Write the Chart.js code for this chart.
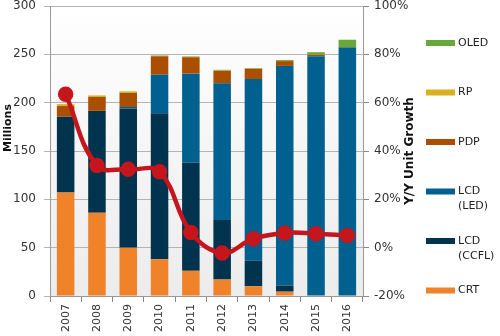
<!DOCTYPE html>
<html>
<head>
<meta charset="utf-8">
<script src="https://cdn.jsdelivr.net/npm/chart.js@4"></script>
<style>
  html, body { margin: 0; padding: 0; background: #fff; }
  #wrap { width: 500px; height: 336px; position: relative; }
</style>
</head>
<body>
<div id="wrap"><canvas id="tvChart"></canvas></div>
<script>
// --- data ---
const years = ['2007', '2008', '2009', '2010', '2011', '2012', '2013', '2014', '2015', '2016'];

// units, millions
const crt    = [107, 86, 50, 38, 26, 17, 10, 4.5, 0, 0];
const ccfl   = [78.5, 105.5, 144, 151, 112, 61.5, 26.5, 6.5, 0, 0];
const ledLcd = [0, 0, 1.5, 40, 92, 141.5, 188, 227, 248, 257];
const pdp    = [11, 14.5, 14.5, 19, 17, 13, 10.5, 5, 1.5, 0.6];
const rp     = [2, 1.5, 1.5, 0.7, 0.5, 0.3, 0.2, 0.2, 0.2, 0];
const oled   = [0, 0, 0.3, 0.3, 0.5, 0.7, 0.6, 1, 2.5, 7.5];

// Y/Y unit growth, percent
const growth = [63.5, 34, 32.4, 31.4, 6.3, -2.2, 3.7, 6.1, 5.8, 5.0];

const leftTicks = [0, 50, 100, 150, 200, 250, 300];
const rightTicks = [-20, 0, 20, 40, 60, 80, 100];

const FONT = "'DejaVu Sans', Verdana, sans-serif";

// plot area background: white fading to light grey
const bgPlugin = {
    id: 'plotBg',
    beforeDraw(chart) {
        const { ctx, chartArea: a } = chart;
        const g = ctx.createLinearGradient(0, a.top, 0, a.bottom);
        g.addColorStop(0, '#ffffff');
        g.addColorStop(1, '#ececec');
        ctx.save();
        ctx.fillStyle = g;
        ctx.fillRect(a.left, a.top, a.right - a.left, a.bottom - a.top);
        ctx.restore();
    }
};

// both axis titles read bottom-to-top, so draw them by hand
const axisTitles = {
    id: 'axisTitles',
    afterDraw(chart) {
        const { ctx } = chart;
        const y1 = chart.scales.y1;
        ctx.save();
        ctx.fillStyle = '#111';
        ctx.textAlign = 'center';
        ctx.textBaseline = 'middle';

        ctx.font = 'bold 11px ' + FONT;
        ctx.translate(8, 128);
        ctx.rotate(-Math.PI / 2);
        ctx.fillText('Millions', 0, 0);
        ctx.setTransform(1, 0, 0, 1, 0, 0);

        ctx.font = 'bold 12px ' + FONT;
        ctx.translate(y1.right + 2, (y1.top + y1.bottom) / 2);
        ctx.rotate(-Math.PI / 2);
        ctx.fillText('Y/Y Unit Growth', 0, 0);
        ctx.restore();
    }
};

// legend on the right, top item = top of stack, labels may wrap
const legendPlugin = {
    id: 'sideLegend',
    afterDraw(chart) {
        const { ctx } = chart;
        const items = chart.data.datasets.filter(d => d.type !== 'line').slice().reverse();
        ctx.save();
        ctx.font = '11px ' + FONT;
        ctx.textBaseline = 'middle';
        items.forEach((d, i) => {
            const y = 43 + i * 49.5;
            ctx.fillStyle = d.backgroundColor;
            ctx.fillRect(426, y - 3, 29, 6);
            ctx.fillStyle = '#222';
            d.legendText.forEach((t, j) => ctx.fillText(t, 458, y + j * 15));
        });
        ctx.restore();
    }
};

// pin axis sizes so the plot box lands where the reference has it
const fixVertical = w => s => { s.paddingTop = 0; s.paddingBottom = 0; s.width = w; };
const fixHorizontal = h => s => { s.paddingLeft = 0; s.paddingRight = 0; s.height = h; };

const barSet = (label, legendText, data, color) => ({
    type: 'bar', label, legendText, data,
    backgroundColor: color,
    yAxisID: 'y',
    barPercentage: 0.56,
    categoryPercentage: 1,
    order: 2
});

const ctx = document.getElementById('tvChart').getContext('2d');
new Chart(ctx, {
    data: {
        labels: years,
        datasets: [
            {
                type: 'line', label: 'Y/Y Unit Growth', data: growth,
                yAxisID: 'y1',
                borderColor: '#c4161c', backgroundColor: '#c4161c',
                borderWidth: 4.5, pointRadius: 5.5, pointHoverRadius: 5.5,
                tension: 0.4, order: 0
            },
            barSet('CRT', ['CRT'], crt, '#f0822a'),
            barSet('LCD (CCFL)', ['LCD', '(CCFL)'], ccfl, '#00334d'),
            barSet('LCD (LED)', ['LCD', '(LED)'], ledLcd, '#00608f'),
            barSet('PDP', ['PDP'], pdp, '#aa4e00'),
            barSet('RP', ['RP'], rp, '#d8b21e'),
            barSet('OLED', ['OLED'], oled, '#68a83a')
        ]
    },
    options: {
        responsive: true,
        maintainAspectRatio: false,
        animation: false,
        layout: { autoPadding: false, padding: { top: 6, right: 92, bottom: 0, left: 14 } },
        plugins: {
            legend: { display: false },
            tooltip: { enabled: false }
        },
        scales: {
            x: {
                stacked: true,
                offset: true,
                afterFit: fixHorizontal(40),
                grid: { offset: true, drawOnChartArea: false, drawTicks: true, tickLength: 6, color: '#888' },
                border: { color: '#999' },
                ticks: { color: '#333', font: { family: FONT, size: 11 }, minRotation: 90, maxRotation: 90, padding: 2 }
            },
            y: {
                stacked: true,
                min: 0, max: 300,
                afterFit: fixVertical(36),
                afterBuildTicks: s => { s.ticks = leftTicks.map(v => ({ value: v })); },
                grid: { color: '#b4b4b4', tickLength: 6 },
                border: { color: '#999' },
                ticks: { color: '#333', font: { family: FONT, size: 12 }, padding: 8 }
            },
            y1: {
                position: 'right',
                stacked: false,
                min: -20, max: 100,
                afterFit: fixVertical(45),
                afterBuildTicks: s => { s.ticks = rightTicks.map(v => ({ value: v })); },
                grid: { drawOnChartArea: false, tickLength: 6, color: '#888' },
                border: { color: '#999' },
                ticks: { color: '#333', font: { family: FONT, size: 12 }, padding: 5, callback: v => v + '%' }
            }
        }
    },
    plugins: [bgPlugin, axisTitles, legendPlugin]
});
</script>
</body>
</html>
